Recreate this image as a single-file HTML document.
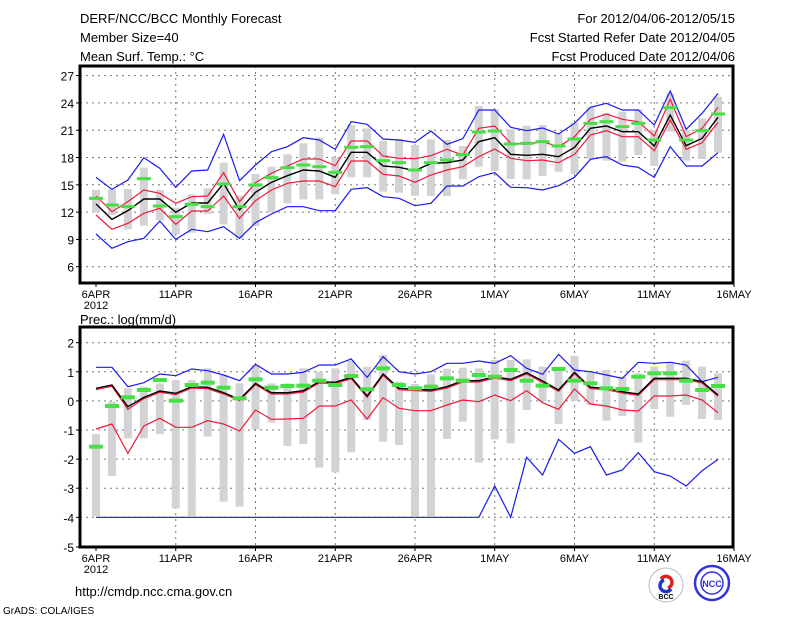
<!DOCTYPE html>
<html><head><meta charset="utf-8"><style>
html,body{margin:0;padding:0;background:#fff;width:800px;height:618px;overflow:hidden}
svg{display:block}
text{font-family:"Liberation Sans",sans-serif;fill:#000}
</style></head><body>
<svg id="s" width="800" height="618" xmlns="http://www.w3.org/2000/svg">
<text x="80" y="23" font-size="13">DERF/NCC/BCC Monthly Forecast</text>
<text x="80" y="42" font-size="13">Member Size=40</text>
<text x="80" y="61" font-size="13">Mean Surf. Temp.: °C</text>
<text x="735" y="23" font-size="13" text-anchor="end">For 2012/04/06-2012/05/15</text>
<text x="735" y="42" font-size="13" text-anchor="end">Fcst Started Refer Date 2012/04/05</text>
<text x="735" y="61" font-size="13" text-anchor="end">Fcst Produced Date 2012/04/06</text>
<text x="80" y="324" font-size="13">Prec.: log(mm/d)</text>
<text x="75" y="596" font-size="13">http://cmdp.ncc.cma.gov.cn</text>
<text x="3" y="614" font-size="10">GrADS: COLA/IGES</text>
<g>
<circle cx="666" cy="585" r="17" fill="#fff" stroke="#bbb"/>
<path d="M661 579 a6 6 0 1 1 7 9" stroke="#d22" stroke-width="3.5" fill="none"/>
<path d="M671 589 a6 6 0 1 1 -7 -9" stroke="#23c" stroke-width="3.5" fill="none"/>
<text x="666" y="599" font-size="7" text-anchor="middle" font-weight="bold">BCC</text>
<circle cx="712" cy="583" r="17" fill="#fff" stroke="#33d" stroke-width="2.5"/>
<circle cx="712" cy="583" r="11" fill="none" stroke="#33d" stroke-width="1.5"/>
<text x="712" y="587" font-size="9" text-anchor="middle" style="fill:#33d" font-weight="bold">NCC</text>
</g>
</svg>
<script>
const S=document.getElementById('s');const NS='http://www.w3.org/2000/svg';
function el(t,a,txt){const e=document.createElementNS(NS,t);for(const k in a)e.setAttribute(k,a[k]);if(txt!=null)e.textContent=txt;S.appendChild(e);return e;}
const X=i=>96+15.95*i;
const labels=['6APR','11APR','16APR','21APR','26APR','1MAY','6MAY','11MAY','16MAY'];
function panel(top,bot,yt,yfn,off,d){
 for(const v of yt){const y=yfn(v);el('line',{x1:80,x2:733,y1:y,y2:y,stroke:'#777','stroke-dasharray':'2,4','stroke-width':1});
  el('line',{x1:76,x2:80,y1:y,y2:y,stroke:'#000'});el('text',{x:74,y:y+5,'font-size':12,'text-anchor':'end'},String(v));}
 for(let k=0;k<9;k++){const x=X(5*k);if(k>0&&k<8)el('line',{x1:x,x2:x,y1:top,y2:bot,stroke:'#777','stroke-dasharray':'2,4'});
  el('line',{x1:x,x2:x,y1:bot,y2:bot+4,stroke:'#000'});el('text',{x:x,y:bot+15,'font-size':11,'text-anchor':'middle'},labels[k]);}
 el('text',{x:X(0),y:bot+26,'font-size':11,'text-anchor':'middle'},'2012');
 const Y=z=>off+z/3;
 for(let i=0;i<40;i++){const [a,b]=d.bar[i];el('rect',{x:X(i)-4,y:Y(a),width:8,height:Y(b)-Y(a),fill:'#d3d3d6'});}
 const pl=(arr,c,w)=>el('polyline',{points:arr.map((z,i)=>X(i)+','+Y(z)).join(' '),fill:'none',stroke:c,'stroke-width':w});
 pl(d.bu,'#1a1aee',1.2);pl(d.bl,'#1a1aee',1.2);pl(d.ru,'#ee1a3a',1.2);pl(d.rl,'#ee1a3a',1.2);pl(d.k,'#000',1.4);
 for(let i=0;i<40;i++)el('rect',{x:X(i)-7,y:Y(d.g[i])-d.gh/2,width:14,height:d.gh,fill:'#44e044'});
 el('rect',{x:80,y:top,width:653,height:bot-top,fill:'none',stroke:'#000','stroke-width':3});
}
const T={
k:[432,478,452,417,417,457,429,429,370,450,397,367,347,330,333,352,277,277,318,322,332,310,308,300,245,233,283,286,283,290,262,205,198,215,215,258,165,257,235,172],
ru:[408,455,425,390,400,430,410,408,338,425,368,340,318,297,297,317,243,243,288,295,296,287,268,285,205,198,250,253,245,260,230,178,162,178,185,228,118,230,205,142],
rl:[465,508,490,460,445,493,453,453,408,475,422,390,370,363,363,380,303,303,343,348,367,345,330,320,290,267,295,302,300,308,283,225,212,230,230,272,180,268,248,187],
bu:[352,388,360,293,325,382,333,330,223,362,315,275,260,233,240,268,185,193,237,240,247,213,253,236,150,150,202,212,204,222,190,142,130,150,150,195,93,208,160,100],
bl:[522,565,545,535,483,538,508,515,500,535,488,462,440,440,452,452,388,383,410,415,437,430,378,378,350,338,382,383,390,377,352,298,290,315,322,352,260,318,318,278],
bar:[[390,458],[388,465],[387,508],[323,497],[390,480],[443,523],[403,518],[385,462],[308,493],[407,535],[342,498],[320,458],[283,430],[250,418],[233,418],[293,403],[195,352],[205,352],[242,395],[237,398],[255,407],[238,408],[240,408],[258,358],[138,320],[148,333],[208,357],[197,358],[195,348],[220,335],[188,342],[142,298],[160,302],[155,305],[148,285],[210,318],[100,215],[210,302],[175,297],[110,278]],
g:[415,435,440,356,438,470,433,440,372,440,375,353,323,315,320,337,262,260,302,308,330,308,300,284,216,213,252,250,245,258,237,190,185,200,190,240,143,240,212,162],gh:3};
const kb=[205,195,260,232,213,220,200,202,218,238,190,218,218,212,185,187,172,228,162,205,208,210,200,182,182,170,178,158,183,210,157,202,205,215,222,175,175,175,185,225];
const B={k:kb,ru:kb.map((v,i)=>v+(i==2?8:4)),
rl:[327,312,400,318,295,322,322,302,312,333,270,298,297,295,258,258,240,297,233,265,272,272,255,240,245,225,242,212,248,268,207,252,258,270,273,228,228,225,240,278],
bu:[142,142,200,188,162,167,147,152,165,182,133,162,162,157,135,135,117,172,110,155,162,155,130,130,123,130,107,145,163,103,150,155,165,175,127,130,127,135,185,172],
bl:[592,592,592,592,592,592,592,592,592,592,592,592,592,592,592,592,592,592,592,592,592,592,592,592,592,498,592,412,465,358,400,380,465,450,398,455,468,498,452,418],
bar:[[342,588],[245,468],[205,355],[200,355],[190,342],[180,565],[180,588],[145,350],[165,545],[190,560],[135,328],[190,308],[190,378],[145,372],[155,443],[145,457],[122,397],[140,300],[105,365],[185,375],[192,588],[163,588],[146,357],[143,305],[145,428],[120,358],[120,370],[118,270],[140,243],[145,312],[108,243],[155,255],[150,302],[170,288],[160,368],[140,267],[130,290],[122,255],[140,297],[160,300]],
g:[380,258,232,210,180,242,195,188,203,235,178,203,198,197,182,195,168,208,145,195,205,200,175,182,165,170,150,182,197,147,182,190,205,207,170,160,160,182,210,198],gh:4};
panel(66,283,[6,9,12,15,18,21,24,27],v=>266.7-(v-6)*9.1,60,T);
panel(327,547,[-4,-3,-2,-1,0,1,2],v=>342.7+(2-v)*29.1,320,B);
el('line',{x1:76,x2:80,y1:547,y2:547,stroke:'#000'});el('text',{x:74,y:552,'font-size':12,'text-anchor':'end'},'-5');
</script>
</body></html>
